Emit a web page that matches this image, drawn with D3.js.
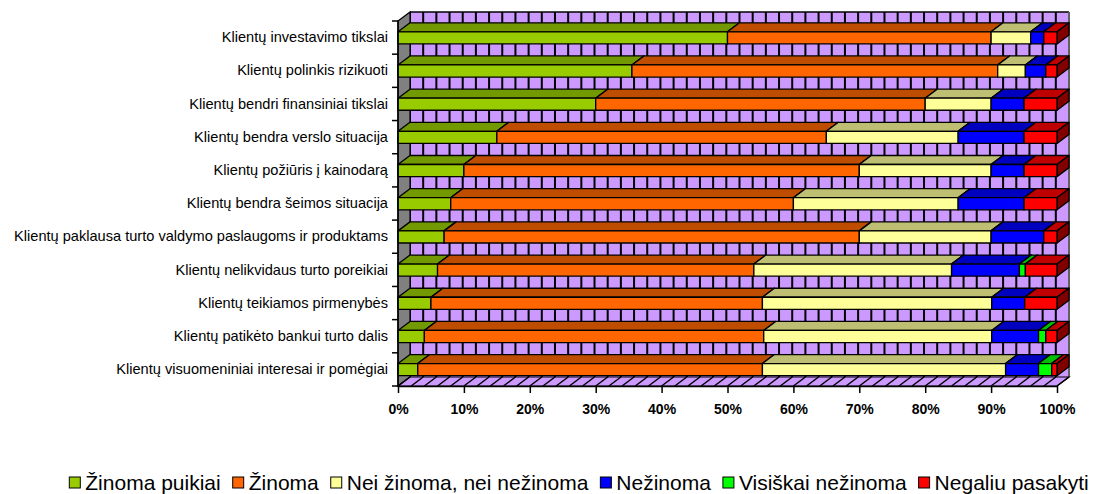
<!DOCTYPE html>
<html>
<head>
<meta charset="utf-8">
<script src="https://cdn.jsdelivr.net/npm/d3@7"></script>
<style>
  body { margin: 0; background: #fff; }
  svg { display: block; }
  text { font-family: "Liberation Sans", Arial, sans-serif; }
</style>
</head>
<body>
<svg id="chart" width="1108" height="494"></svg>
<script>
// Survey answers per topic, in percent (rows from top to bottom)
const categories = [
  "Klientų investavimo tikslai",
  "Klientų polinkis rizikuoti",
  "Klientų bendri finansiniai tikslai",
  "Klientų bendra verslo situacija",
  "Klientų požiūris į kainodarą",
  "Klientų bendra šeimos situacija",
  "Klientų paklausa turto valdymo paslaugoms ir produktams",
  "Klientų nelikvidaus turto poreikiai",
  "Klientų teikiamos pirmenybės",
  "Klientų patikėto bankui turto dalis",
  "Klientų visuomeniniai interesai ir pomėgiai"
];
const seriesNames = [
  "Žinoma puikiai", "Žinoma", "Nei žinoma, nei nežinoma",
  "Nežinoma", "Visiškai nežinoma", "Negaliu pasakyti"
];
const zinomaPuikiai = [50, 35.5, 30, 15, 10, 8, 7, 6, 5, 4, 3];
const zinoma        = [40, 55.5, 50, 50, 60, 52, 63, 48, 50.3, 51.5, 52.3];
const neiZinoma     = [6, 4.2, 10, 20, 20, 25, 20, 30, 34.8, 34.6, 36.9];
const nezinoma      = [2, 3.1, 5, 10, 5, 10, 8, 10.3, 5, 7.1, 5];
const visiskaiNez   = [0, 0, 0, 0, 0, 0, 0, 0.9, 0, 1.1, 2];
const negaliu       = [2, 1.7, 5, 5, 5, 5, 2, 4.8, 4.9, 1.7, 0.8];
const xTicks = [0, 0.1, 0.2, 0.3, 0.4, 0.5, 0.6, 0.7, 0.8, 0.9, 1];

const colors = ["#99CC00", "#FF6600", "#FFFF99", "#0000FF", "#00FF00", "#FF0000"];
const wallColor = "#CC99FF";

const seriesValues = [zinomaPuikiai, zinoma, neiZinoma, nezinoma, visiskaiNez, negaliu];
const rows = categories.map((c, i) => {
  const r = { category: c };
  seriesNames.forEach((s, k) => { r[s] = seriesValues[k][i]; });
  return r;
});
const stacked = d3.stack().keys(seriesNames).offset(d3.stackOffsetExpand)(rows);

const svg = d3.select("#chart");
const plot = { left: 398, right: 1057, top: 21, bottom: 386 };
const dx = 12, dy = 9;   // 3D depth offset

const x = d3.scaleLinear().domain([0, 1]).range([plot.left, plot.right]);
const y = d3.scaleBand().domain(categories).range([plot.top, plot.bottom]).padding(0);

const poly = pts => "M" + pts.map(p => p.join(",")).join("L") + "Z";

// back wall with vertical gridlines every 2%
const back = svg.append("g");
back.append("rect")
  .attr("x", plot.left + dx).attr("y", plot.top - dy)
  .attr("width", plot.right - plot.left).attr("height", plot.bottom - plot.top)
  .attr("fill", wallColor);
const grid = d3.range(0, 51).map(i => i / 50);
back.selectAll("line.wg").data(grid).join("line")
  .attr("x1", d => x(d) + dx).attr("x2", d => x(d) + dx)
  .attr("y1", plot.top - dy).attr("y2", plot.bottom - dy)
  .attr("stroke", "#000").attr("stroke-width", 2);
back.append("line")
  .attr("x1", plot.left + dx).attr("x2", plot.right + dx)
  .attr("y1", plot.top - dy).attr("y2", plot.top - dy)
  .attr("stroke", "#000").attr("stroke-width", 1.5);
back.append("line")
  .attr("x1", plot.right + dx).attr("x2", plot.right + dx)
  .attr("y1", plot.top - dy).attr("y2", plot.bottom - dy)
  .attr("stroke", "#808080").attr("stroke-width", 1.5);

// left side wall
back.append("path")
  .attr("d", poly([[plot.left, plot.top], [plot.left + dx, plot.top - dy],
                   [plot.left + dx, plot.bottom - dy], [plot.left, plot.bottom]]))
  .attr("fill", "#808080").attr("stroke", "#000").attr("stroke-width", 1.2);

// floor with slanted gridlines
back.append("path")
  .attr("d", poly([[plot.left, plot.bottom], [plot.right, plot.bottom],
                   [plot.right + dx, plot.bottom - dy], [plot.left + dx, plot.bottom - dy]]))
  .attr("fill", wallColor).attr("stroke", "#000").attr("stroke-width", 1.2);
back.selectAll("line.fg").data(grid).join("line")
  .attr("x1", d => x(d)).attr("y1", plot.bottom)
  .attr("x2", d => x(d) + dx).attr("y2", plot.bottom - dy)
  .attr("stroke", "#000").attr("stroke-width", 1.5);

// 3D bars
const shade = (c, f) => { const q = d3.rgb(c); return d3.rgb(q.r * f, q.g * f, q.b * f).formatHex(); };
const bw = y.bandwidth();
const barOff = bw * 0.325, barH = bw * 0.365;
const bars = svg.append("g").attr("stroke", "#000").attr("stroke-width", 1.3).attr("stroke-linejoin", "round");
categories.forEach((c, i) => {
  const t = y(c) + barOff, b = t + barH;
  stacked.forEach((s, k) => {
    const x0 = x(s[i][0]), x1 = x(s[i][1]);
    if (x1 - x0 < 0.01) return;
    const g = bars.append("g");
    g.append("path")
      .attr("d", poly([[x0, t], [x0 + dx, t - dy], [x1 + dx, t - dy], [x1, t]]))
      .attr("fill", shade(colors[k], 0.75));
    g.append("path")
      .attr("d", poly([[x1, t], [x1 + dx, t - dy], [x1 + dx, b - dy], [x1, b]]))
      .attr("fill", shade(colors[k], 0.5));
    g.append("rect")
      .attr("x", x0).attr("y", t).attr("width", x1 - x0).attr("height", barH)
      .attr("fill", colors[k]);
  });
});

// category axis
const yAxis = svg.append("g").attr("transform", `translate(${plot.left},0)`)
  .call(d3.axisLeft(y).tickSize(0).tickPadding(10));
yAxis.select(".domain").remove();
yAxis.selectAll("text").attr("font-size", 14.6).attr("fill", "#000")
  .attr("font-family", "'Liberation Sans', Arial, sans-serif");
const bounds = categories.map(c => y(c)).concat([plot.bottom]);
svg.append("g").selectAll("line").data(bounds).join("line")
  .attr("x1", plot.left - 6).attr("x2", plot.left)
  .attr("y1", d => d).attr("y2", d => d)
  .attr("stroke", "#000").attr("stroke-width", 1.5);
svg.append("line")
  .attr("x1", plot.left).attr("x2", plot.left)
  .attr("y1", plot.top).attr("y2", plot.bottom)
  .attr("stroke", "#000").attr("stroke-width", 1.5);

// percentage axis
const xAxis = svg.append("g").attr("transform", `translate(0,${plot.bottom})`)
  .call(d3.axisBottom(x).tickValues(xTicks).tickFormat(d3.format(".0%")).tickSize(7).tickPadding(11).tickSizeOuter(0));
xAxis.select(".domain").attr("stroke", "#000").attr("stroke-width", 1.5);
xAxis.selectAll(".tick line").attr("stroke", "#000").attr("stroke-width", 1.5);
xAxis.selectAll("text").attr("font-size", 14).attr("font-weight", "bold").attr("fill", "#000")
  .attr("font-family", "'Liberation Sans', Arial, sans-serif");

// legend: one centred row along the bottom
const legend = svg.append("g");
const legendCenter = 579, legendBase = 490;
const mark = 11, markGap = 5, itemGap = 12, fs = 21;
const items = legend.selectAll("g").data(seriesNames).join("g");
items.append("rect").attr("width", mark).attr("height", mark)
  .attr("y", legendBase - 13)
  .attr("fill", (d, k) => colors[k]).attr("stroke", "#000").attr("stroke-width", 1);
const labels = items.append("text").text(d => d)
  .attr("x", mark + markGap)
  .attr("y", legendBase).attr("fill", "#000").attr("font-size", fs);
const widths = labels.nodes().map(n => n.getComputedTextLength());
const total = d3.sum(widths) + seriesNames.length * (mark + markGap) + (seriesNames.length - 1) * itemGap;
let cx = legendCenter - total / 2;
items.each(function (d, k) {
  d3.select(this).attr("transform", `translate(${cx},0)`);
  cx += mark + markGap + widths[k] + itemGap;
});
</script>
</body>
</html>
